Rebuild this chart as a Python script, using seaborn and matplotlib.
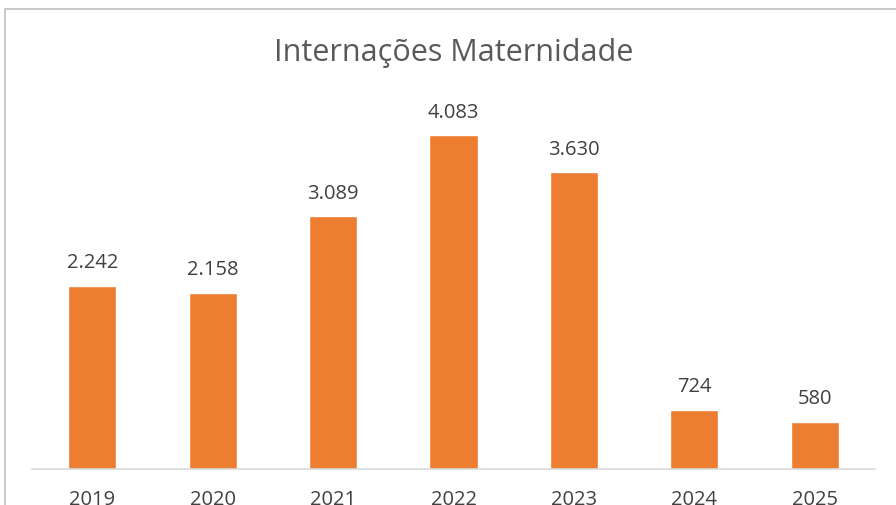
import matplotlib
matplotlib.use("Agg")
import matplotlib.pyplot as plt
import seaborn as sns
import pandas as pd
from matplotlib.patches import Rectangle

# ==========================================
# DATA
# ==========================================
anos = ["2019", "2020", "2021", "2022", "2023", "2024", "2025"]
internacoes = [2242, 2158, 3089, 4083, 3630, 724, 580]

df = pd.DataFrame({"ano": anos, "internacoes": internacoes})

# ==========================================
# STYLE
# ==========================================
sns.set_style("white")
plt.rcParams["font.family"] = ["Open Sans", "DejaVu Sans"]
texto = "#404040"
laranja = "#ED7D31"

fig = plt.figure(figsize=(8.96, 5.05), dpi=100)
ax = fig.add_axes([0.0357, 0.0713, 0.9409, 0.7287])

sns.barplot(data=df, x="ano", y="internacoes", color=laranja,
            width=0.4, saturation=1, errorbar=None, ax=ax)

ax.set_ylim(0, 4500)
ax.set_xlim(-0.5, len(anos) - 0.5)
ax.set_xlabel("")
ax.set_ylabel("")
ax.set_yticks([])
for s in ["top", "right", "left"]:
    ax.spines[s].set_visible(False)
ax.spines["bottom"].set_color("#D9D9D9")
ax.spines["bottom"].set_linewidth(1.2)
ax.tick_params(axis="x", length=0, pad=15, labelsize=14.5, labelcolor=texto)

# data labels with dot thousands separator
for p, v in zip(ax.patches, internacoes):
    rotulo = f"{v:,}".replace(",", ".")
    ax.annotate(rotulo, (p.get_x() + p.get_width() / 2, p.get_height()),
                xytext=(0, 9), textcoords="offset points",
                ha="center", va="bottom", fontsize=14.5, color=texto)

fig.text(0.506, 0.895, "Internações Maternidade", ha="center", va="center",
         fontsize=22, color="#595959")

# chart frame (cut off on right and bottom like the screenshot)
fig.patches.append(Rectangle((5 / 896, -0.1), 1.2, 1 - 9 / 505 + 0.1,
                             transform=fig.transFigure, fill=False,
                             edgecolor="#BFBFBF", linewidth=1.2))

plt.savefig("out.png", dpi=100)
